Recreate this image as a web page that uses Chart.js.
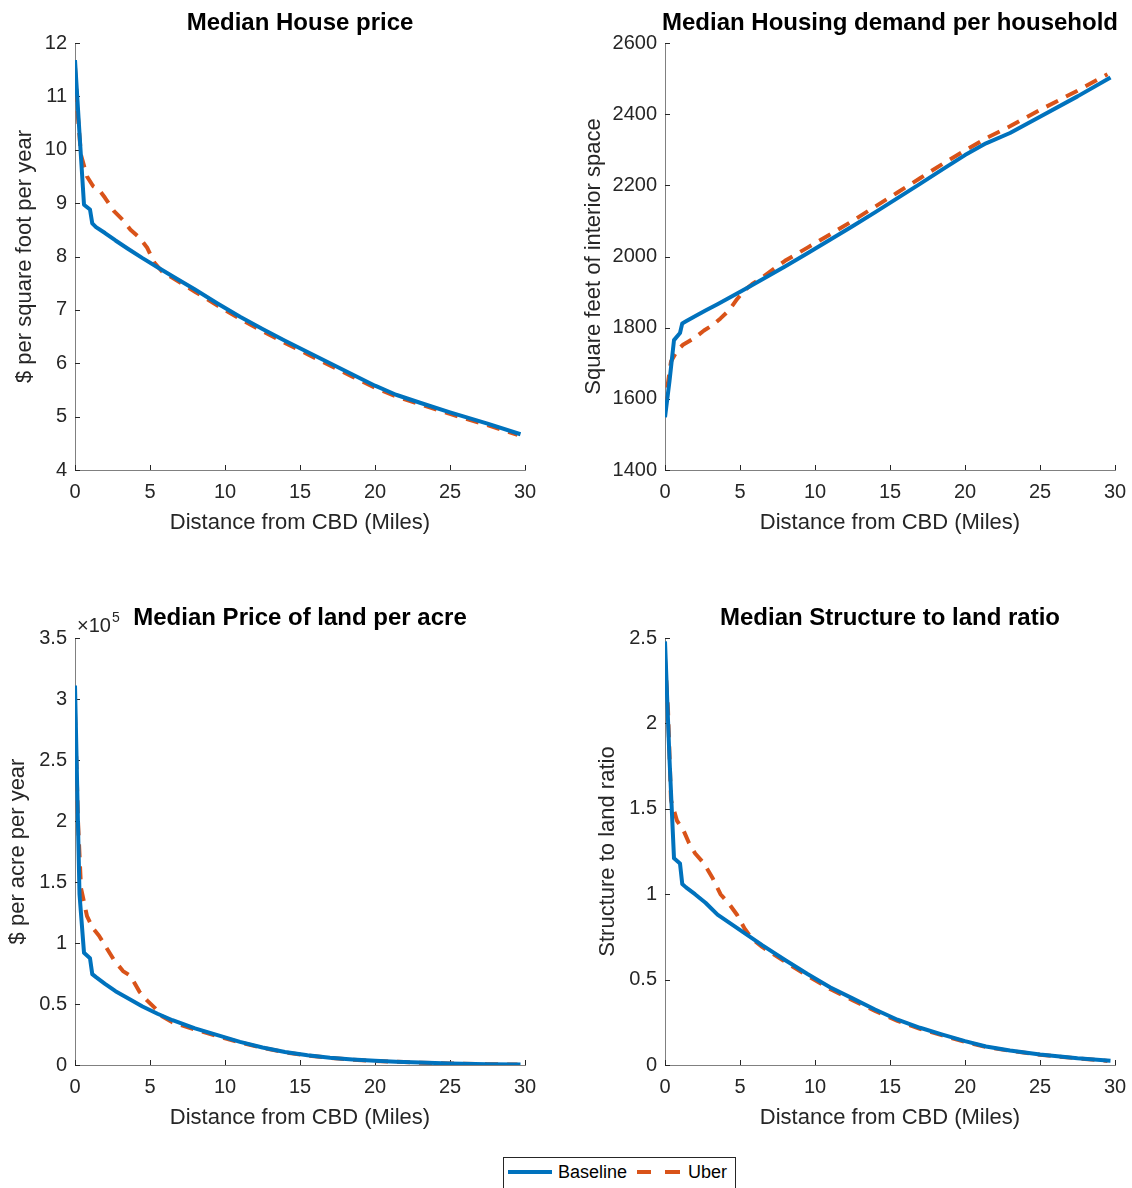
<!DOCTYPE html>
<html>
<head>
<meta charset="utf-8">
<title>Median housing outcomes by distance from CBD</title>
<script src="https://cdn.jsdelivr.net/npm/chart.js@4.4.1/dist/chart.umd.min.js"></script>
<style>
    body { margin: 0; background: #fff; width: 1132px; height: 1188px; position: relative; overflow: hidden;
           font-family: "Liberation Sans", Arial, sans-serif; }
    canvas { position: absolute; }
    #legend { position: absolute; left: 503px; top: 1157px; width: 231px; height: 40px;
              border: 1px solid #262626; background: #fff; }
    #legend .ln { position: absolute; top: 12px; height: 0; }
    #legend .tx { position: absolute; top: 4px; line-height: 21px; font-size: 18px; color: #000; }
</style>
</head>
<body>
<canvas id="housePrice" width="560" height="560" style="left:0;top:0"></canvas>
<canvas id="housingDemand" width="562" height="560" style="left:570px;top:0"></canvas>
<canvas id="landPrice" width="560" height="560" style="left:0;top:595px"></canvas>
<canvas id="structureRatio" width="562" height="560" style="left:570px;top:595px"></canvas>
<div id="legend">
    <span class="ln" style="left:4px;width:44px;border-top:4px solid #0072BD"></span>
    <span class="tx" style="left:54px">Baseline</span>
    <span class="ln" style="left:133px;width:14px;border-top:4px solid #D95319"></span>
    <span class="ln" style="left:161px;width:15px;border-top:4px solid #D95319"></span>
    <span class="tx" style="left:184px">Uber</span>
</div>
<script>
// distance from CBD (miles)
const distBase = [0, 0.3, 0.6, 1.0, 1.15, 1.4, 2, 2.7, 3.5, 4.5, 5.5, 6.5, 8, 9.5, 11, 12.5, 14, 15.5, 17, 18.5, 20, 21.4, 23, 25, 27.5, 29.7];
const distUber = [0, 0.2, 0.4, 0.8, 1.2, 1.6, 2.0, 2.6, 3.2, 3.7, 4.3, 4.8, 5.3, 5.8, 6.5, 8, 9.5, 11, 12.5, 14, 15.5, 17, 18.5, 20, 21.4, 23, 25, 27.5, 29.5];

// $ per square foot per year
const housePriceBase = [11.68, 10.3, 8.97, 8.88, 8.62, 8.55, 8.44, 8.30, 8.15, 7.97, 7.80, 7.63, 7.38, 7.12, 6.87, 6.64, 6.42, 6.21, 6.00, 5.79, 5.58, 5.41, 5.26, 5.08, 4.87, 4.67];
const housePriceUber = [11.55, 10.6, 9.9, 9.5, 9.32, 9.25, 9.1, 8.85, 8.68, 8.5, 8.35, 8.17, 7.88, 7.72, 7.6, 7.34, 7.08, 6.83, 6.6, 6.38, 6.17, 5.96, 5.75, 5.54, 5.38, 5.23, 5.05, 4.84, 4.66];

// square feet of interior space
const demandBase = [1548, 1650, 1765, 1785, 1812, 1818, 1832, 1848, 1866, 1889, 1912, 1936, 1972, 2009, 2047, 2085, 2124, 2164, 2204, 2245, 2285, 2318, 2347, 2393, 2450, 2503];
const demandUber = [1570, 1645, 1705, 1735, 1752, 1762, 1772, 1792, 1808, 1826, 1850, 1880, 1905, 1922, 1942, 1988, 2025, 2062, 2100, 2140, 2180, 2220, 2260, 2298, 2332, 2366, 2412, 2466, 2512];

// $ per acre per year
const landBase = [311000, 140000, 92000, 87500, 74500, 72000, 66500, 60500, 55000, 48000, 42000, 36700, 30000, 24500, 19000, 14300, 10700, 8000, 6000, 4500, 3400, 2700, 2000, 1300, 700, 400];
const landUber = [289000, 200000, 145000, 122000, 112000, 106000, 98000, 86000, 77000, 73000, 60000, 53000, 47000, 40000, 35000, 29000, 23700, 18500, 14000, 10400, 7800, 5800, 4400, 3300, 2600, 1900, 1200, 700, 400];

// structure to land ratio
const ratioBase = [2.48, 1.79, 1.21, 1.18, 1.06, 1.04, 1.0, 0.95, 0.88, 0.82, 0.76, 0.70, 0.615, 0.533, 0.455, 0.39, 0.325, 0.265, 0.218, 0.178, 0.14, 0.108, 0.085, 0.062, 0.04, 0.025];
const ratioUber = [2.38, 2.08, 1.55, 1.43, 1.38, 1.3, 1.24, 1.18, 1.09, 1.0, 0.94, 0.88, 0.8, 0.74, 0.69, 0.605, 0.522, 0.445, 0.38, 0.317, 0.258, 0.212, 0.173, 0.136, 0.105, 0.083, 0.06, 0.039, 0.024];

const FONT = '"Liberation Sans", Arial, sans-serif';
const BLUE = '#0072BD';
const ORANGE = '#D95319';
const AXIS = '#262626';

// matlab style: inward ticks, bold title over the axes, x10^n exponent
const axesDeco = {
    id: 'axesDeco',
    beforeDatasetsDraw(chart, args, opts) {
        const { ctx, chartArea: a, scales: { x, y } } = chart;
        ctx.save();
        ctx.strokeStyle = AXIS;
        ctx.lineWidth = 1;
        ctx.beginPath();
        x.ticks.forEach(t => {
            const px = Math.round(x.getPixelForValue(t.value)) + 0.5;
            ctx.moveTo(px, a.bottom);
            ctx.lineTo(px, a.bottom - 5);
        });
        y.ticks.forEach(t => {
            const py = Math.round(y.getPixelForValue(t.value)) + 0.5;
            ctx.moveTo(a.left, py);
            ctx.lineTo(a.left + 5, py);
        });
        ctx.stroke();
        ctx.restore();
    },
    afterDraw(chart, args, opts) {
        const { ctx, chartArea: a } = chart;
        ctx.save();
        ctx.fillStyle = '#000';
        ctx.font = 'bold 24px ' + FONT;
        ctx.textAlign = 'center';
        ctx.textBaseline = 'middle';
        ctx.fillText(opts.title, (a.left + a.right) / 2, a.top - 20);
        if (opts.exponent) {
            ctx.fillStyle = AXIS;
            ctx.textAlign = 'left';
            ctx.textBaseline = 'alphabetic';
            ctx.font = '20px ' + FONT;
            const base = '\u00d710';
            ctx.fillText(base, a.left + 2, a.top - 6);
            const w = ctx.measureText(base).width;
            ctx.font = '14px ' + FONT;
            ctx.fillText(opts.exponent, a.left + 3 + w, a.top - 16);
        }
        ctx.restore();
    }
};

function toPoints(xs, ys) {
    return xs.map((x, i) => ({ x: x, y: ys[i] }));
}

function makePanel(id, cfg) {
    const ctx = document.getElementById(id).getContext('2d');
    return new Chart(ctx, {
        type: 'line',
        data: {
            datasets: [
                { label: 'Baseline', data: toPoints(distBase, cfg.base), borderColor: BLUE,
                  borderWidth: 4, pointRadius: 0, tension: 0, borderJoinStyle: 'round' },
                { label: 'Uber', data: toPoints(distUber, cfg.uber), borderColor: ORANGE,
                  borderWidth: 4, pointRadius: 0, tension: 0, borderDash: [13, 9], borderJoinStyle: 'round' }
            ]
        },
        options: {
            responsive: false,
            animation: false,
            layout: { padding: { top: 43, right: cfg.padRight, bottom: 5, left: 0 } },
            plugins: {
                legend: { display: false },
                tooltip: { enabled: false },
                axesDeco: { title: cfg.title, exponent: cfg.exponent }
            },
            scales: {
                x: {
                    type: 'linear', min: 0, max: 30,
                    grid: { display: false, drawTicks: false },
                    border: { display: true, color: '#808080', width: 1 },
                    ticks: { stepSize: 5, padding: 10, color: AXIS, maxRotation: 0, font: { family: FONT, size: 20 } },
                    title: { display: true, text: 'Distance from CBD (Miles)', color: AXIS,
                             font: { family: FONT, size: 22 }, padding: { top: 0, bottom: 19 } },
                    afterFit: s => { s.height = 85; s.paddingLeft = 0; s.paddingRight = 0; }
                },
                y: {
                    type: 'linear', min: cfg.min, max: cfg.max,
                    grid: { display: false, drawTicks: false },
                    border: { display: true, color: '#808080', width: 1 },
                    ticks: { stepSize: cfg.step, padding: 8, color: AXIS, font: { family: FONT, size: 20 },
                             callback: v => String(+(v / (cfg.scale || 1)).toFixed(2)) },
                    title: { display: true, text: cfg.yTitle, color: AXIS,
                             font: { family: FONT, size: 22 }, padding: { top: cfg.yTitlePad, bottom: 0 } },
                    afterFit: s => { s.width = cfg.yWidth; s.paddingTop = 0; s.paddingBottom = 0; }
                }
            }
        },
        plugins: [axesDeco]
    });
}

makePanel('housePrice', {
    base: housePriceBase, uber: housePriceUber, title: 'Median House price',
    yTitle: '$ per square foot per year', min: 4, max: 12, step: 1,
    yWidth: 75, yTitlePad: 12, padRight: 35
});
makePanel('housingDemand', {
    base: demandBase, uber: demandUber, title: 'Median Housing demand per household',
    yTitle: 'Square feet of interior space', min: 1400, max: 2600, step: 200,
    yWidth: 95, yTitlePad: 11, padRight: 17
});
makePanel('landPrice', {
    base: landBase, uber: landUber, title: 'Median Price of land per acre',
    yTitle: '$ per acre per year', min: 0, max: 350000, step: 50000, scale: 100000, exponent: '5',
    yWidth: 75, yTitlePad: 5, padRight: 35
});
makePanel('structureRatio', {
    base: ratioBase, uber: ratioUber, title: 'Median Structure to land ratio',
    yTitle: 'Structure to land ratio', min: 0, max: 2.5, step: 0.5,
    yWidth: 95, yTitlePad: 25, padRight: 17
});
</script>
</body>
</html>
